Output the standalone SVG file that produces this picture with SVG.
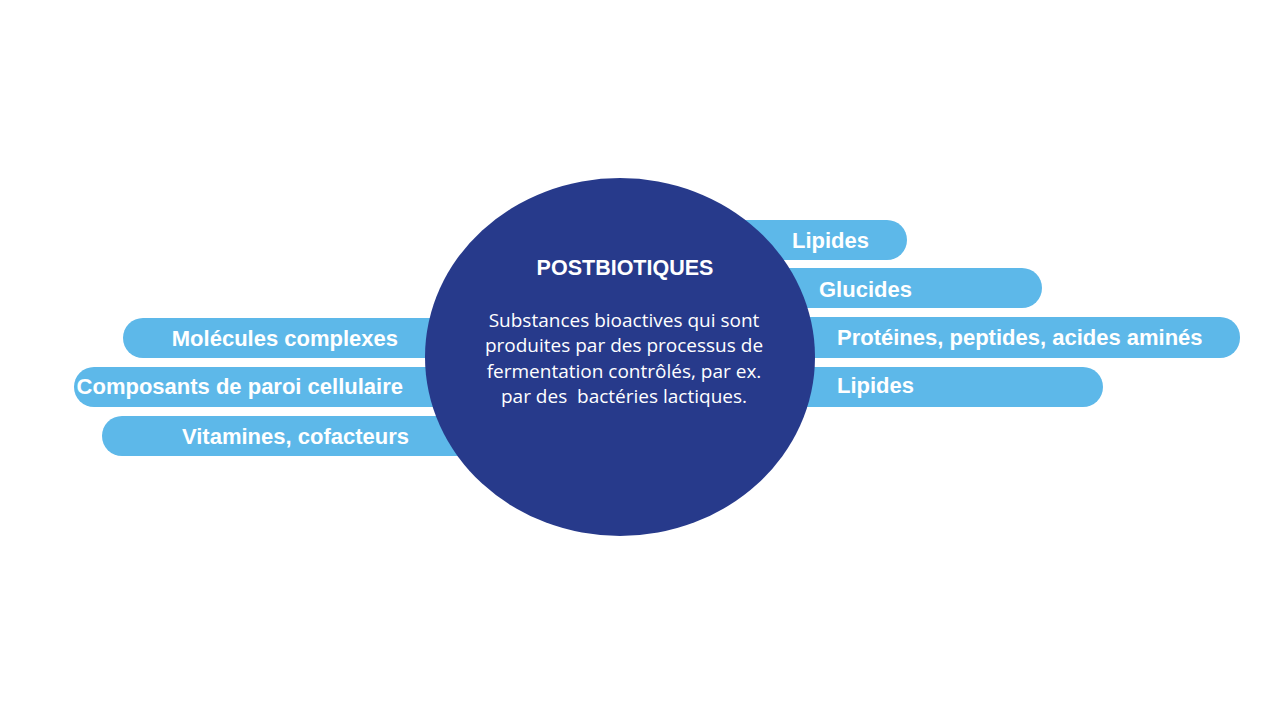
<svg xmlns="http://www.w3.org/2000/svg" width="1280" height="720" viewBox="0 0 1280 720">
<style>
.pill{fill:#5db8e9}
.pt{font-family:"Liberation Sans",Arial,sans-serif;font-weight:bold;font-size:22px;fill:#ffffff}
.core{fill:#273a8b}
.title{font-family:"Liberation Sans",Arial,sans-serif;font-weight:bold;font-size:21.5px;fill:#ffffff}
.body{font-family:"Open Sans","Liberation Sans",sans-serif;font-size:19px;fill:#ffffff}
</style>
<rect width="1280" height="720" fill="#ffffff"/>
<g id="connectors"></g>
<g id="left-molecules"><rect class="pill" x="123" y="318" width="500" height="40" rx="20"/><text class="pt" x="398" y="346" text-anchor="end">Molécules complexes</text></g>
<g id="left-paroi"><rect class="pill" x="74" y="367" width="550" height="40" rx="20"/><text class="pt" x="403" y="394" text-anchor="end">Composants de paroi cellulaire</text></g>
<g id="left-vitamines"><rect class="pill" x="102" y="416" width="520" height="40" rx="20"/><text class="pt" x="409" y="444" text-anchor="end">Vitamines, cofacteurs</text></g>
<g id="right-lipides1"><rect class="pill" x="620" y="220" width="287" height="40" rx="20"/><text class="pt" x="792" y="248">Lipides</text></g>
<g id="right-glucides"><rect class="pill" x="620" y="268" width="422" height="40" rx="20"/><text class="pt" x="819" y="297">Glucides</text></g>
<g id="right-proteines"><rect class="pill" x="620" y="317" width="620" height="41" rx="20"/><text class="pt" x="837" y="345">Protéines, peptides, acides aminés</text></g>
<g id="right-lipides2"><rect class="pill" x="620" y="367" width="483" height="40" rx="20"/><text class="pt" x="837" y="393">Lipides</text></g>
<g id="postbiotiques">
<ellipse class="core" cx="620" cy="357" rx="195" ry="179"/>
<text class="title" x="625" y="275" text-anchor="middle">POSTBIOTIQUES</text>
<text class="body" text-anchor="middle"><tspan x="624" y="327">Substances bioactives qui sont</tspan><tspan x="624" y="352">produites par des processus de</tspan><tspan x="624" y="378">fermentation contrôlés, par ex.</tspan><tspan x="624" y="403">par des&#160; bactéries lactiques.</tspan></text>
</g>
</svg>
